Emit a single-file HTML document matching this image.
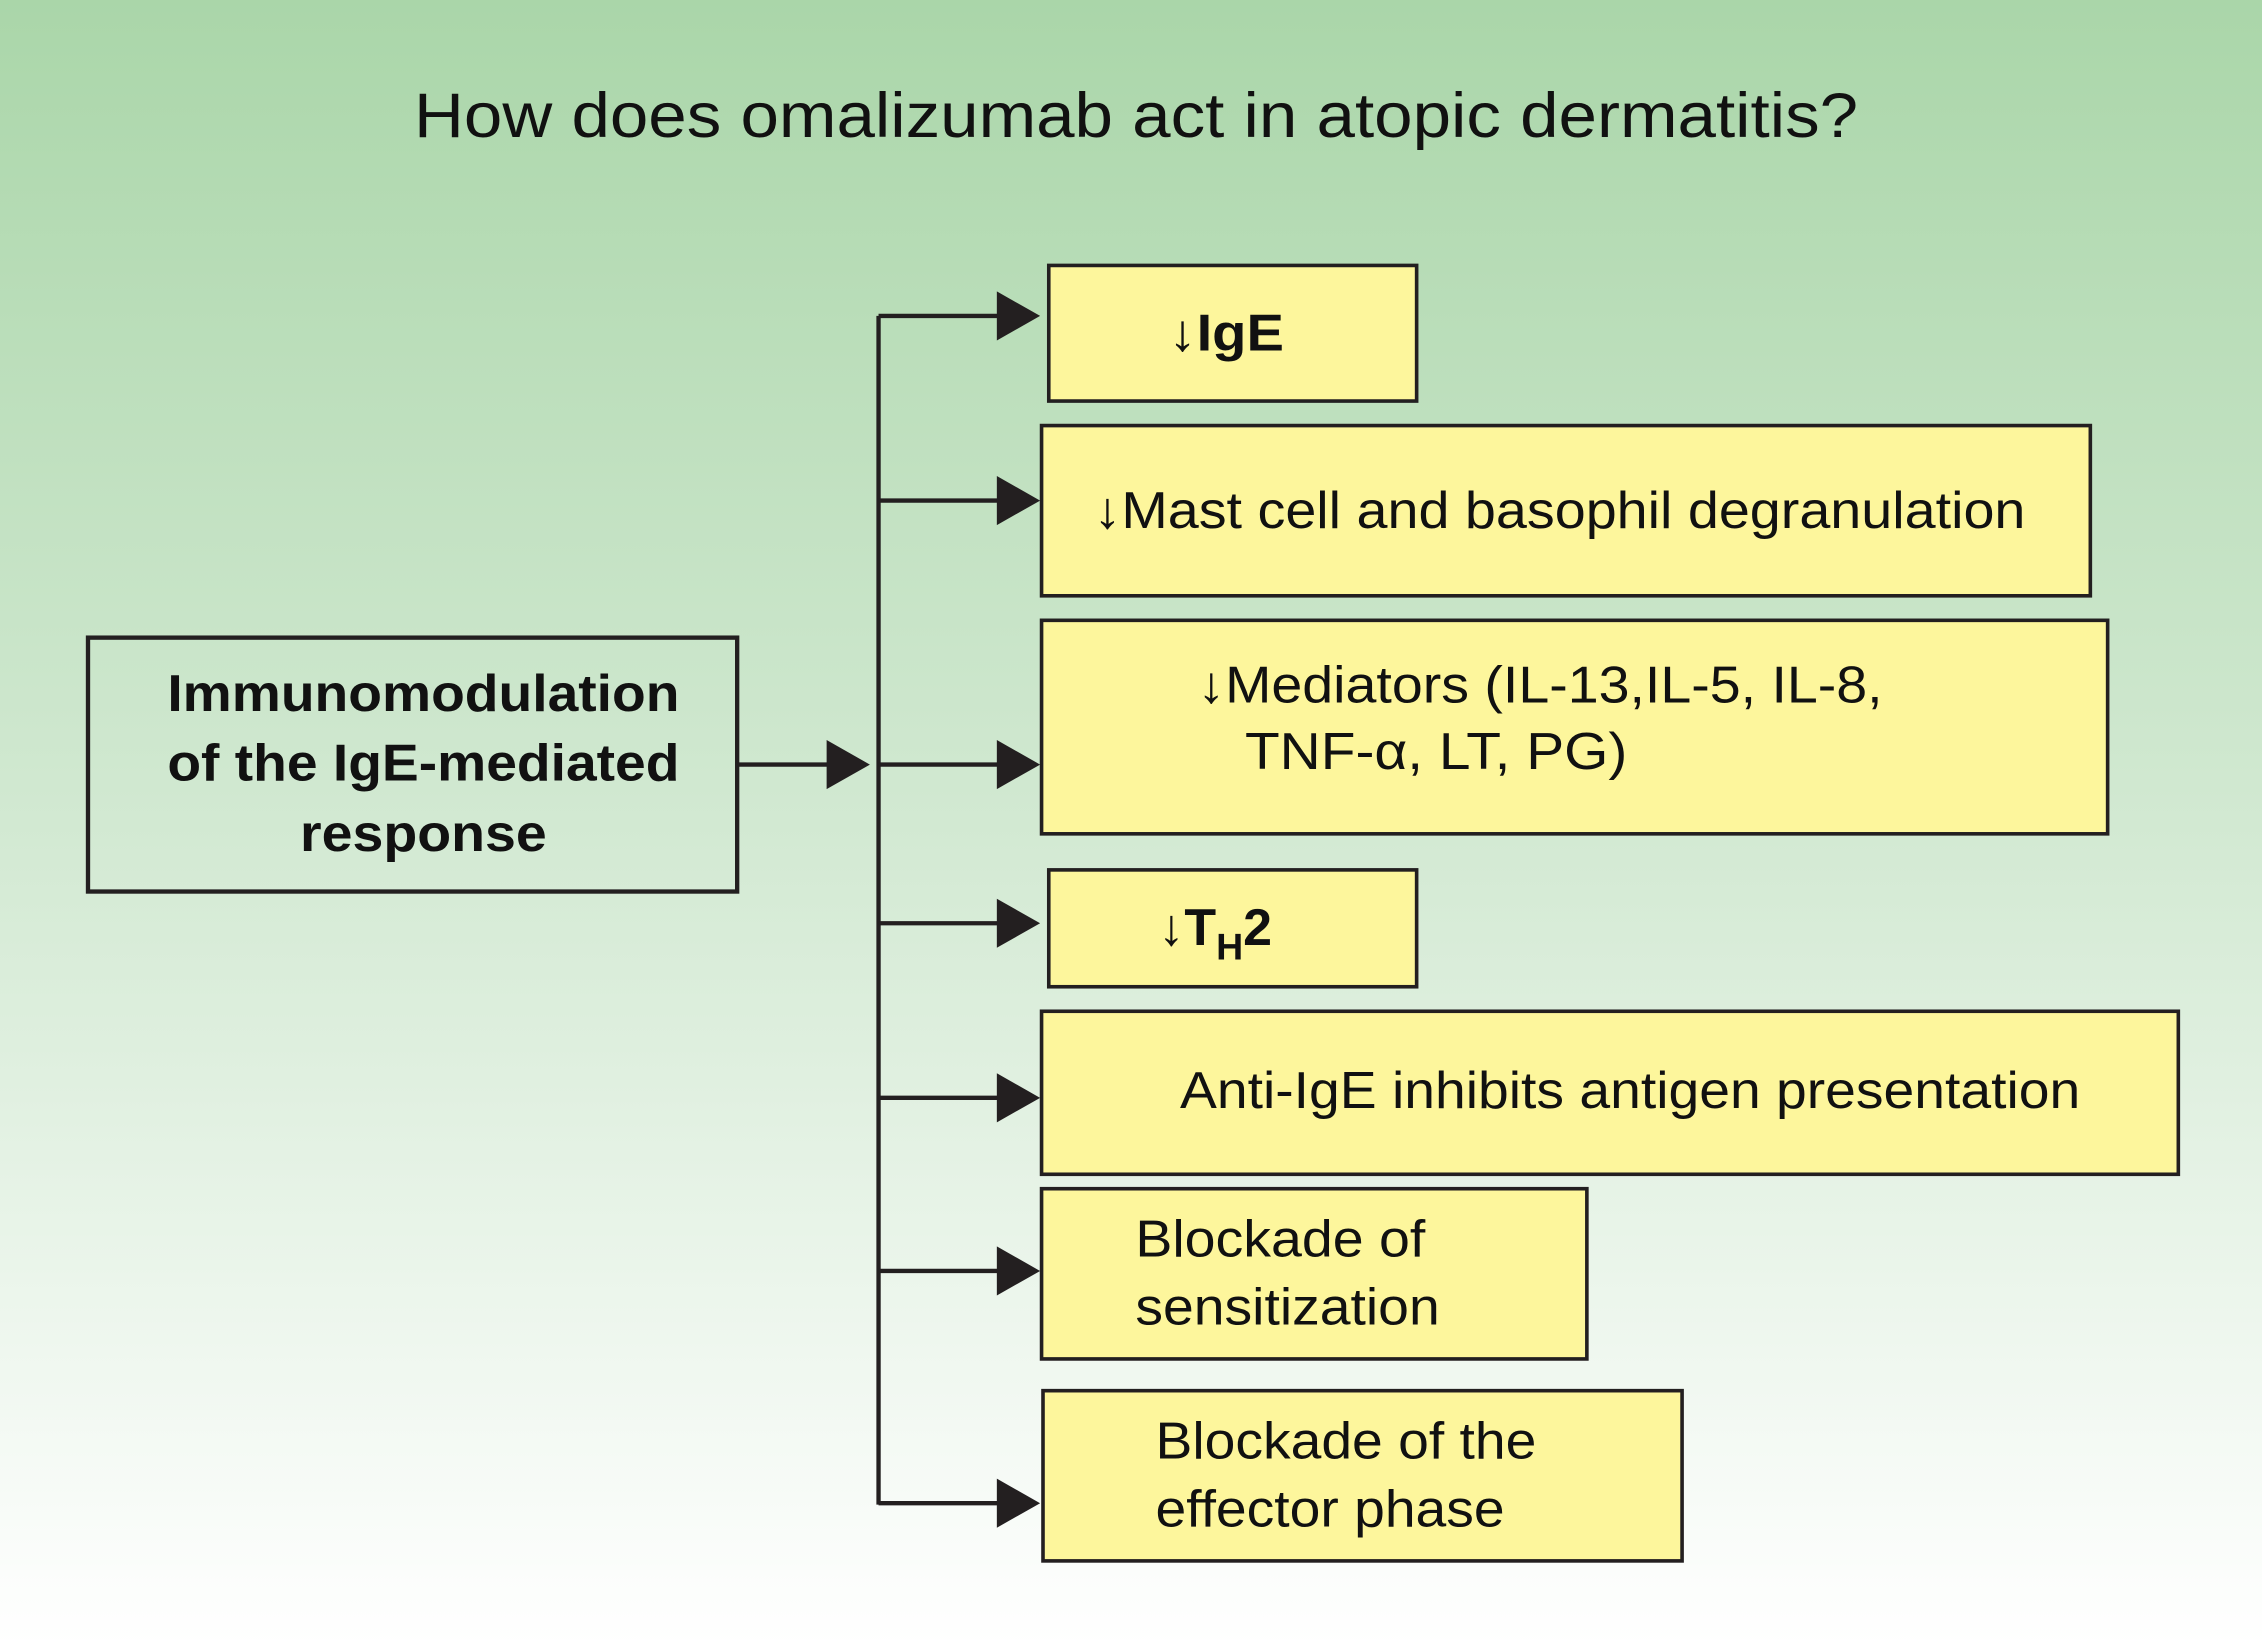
<!DOCTYPE html>
<html><head><meta charset="utf-8"><style>
html,body{margin:0;padding:0;}
svg{display:block;}
text{font-family:"Liberation Sans",Arial,sans-serif;fill:#111;}
</style></head><body>
<svg width="2262" height="1644" viewBox="0 0 1568 1139.6" preserveAspectRatio="none" xmlns="http://www.w3.org/2000/svg">
<defs>
<linearGradient id="bg" x1="0" y1="0" x2="0" y2="1">
<stop offset="0" stop-color="#aad6a9"/>
<stop offset="0.5" stop-color="#d2e9d2"/>
<stop offset="1" stop-color="#ffffff"/>
</linearGradient>
</defs>
<rect width="1568" height="1140" fill="url(#bg)"/>
<text x="287" y="95" font-size="44" textLength="1001" lengthAdjust="spacingAndGlyphs">How does omalizumab act in atopic dermatitis?</text>

<g stroke="#231f20" stroke-width="3" fill="none">
<rect x="61" y="442" width="450" height="176"/>
<line x1="511" y1="530" x2="576" y2="530"/>
<line x1="609" y1="219" x2="609" y2="1043"/>
<line x1="609" y1="219" x2="694" y2="219"/>
<line x1="609" y1="347" x2="694" y2="347"/>
<line x1="609" y1="530" x2="694" y2="530"/>
<line x1="609" y1="640" x2="694" y2="640"/>
<line x1="609" y1="761" x2="694" y2="761"/>
<line x1="609" y1="881" x2="694" y2="881"/>
<line x1="609" y1="1042" x2="694" y2="1042"/>
</g>
<g fill="#231f20">
<polygon points="573,513 603,530 573,547"/>
<polygon points="691,202 721,219 691,236"/>
<polygon points="691,330 721,347 691,364"/>
<polygon points="691,513 721,530 691,547"/>
<polygon points="691,623 721,640 691,657"/>
<polygon points="691,744 721,761 691,778"/>
<polygon points="691,864 721,881 691,898"/>
<polygon points="691,1025 721,1042 691,1059"/>
</g>
<g font-weight="bold" font-size="36">
<text x="116" y="493" textLength="355" lengthAdjust="spacingAndGlyphs">Immunomodulation</text>
<text x="116" y="541" textLength="355" lengthAdjust="spacingAndGlyphs">of the IgE-mediated</text>
<text x="208" y="590" textLength="171" lengthAdjust="spacingAndGlyphs">response</text>
</g>

<g fill="#fdf69c" stroke="#231f20" stroke-width="2.5">
<rect x="727" y="184" width="255" height="94"/>
<rect x="722" y="295" width="727" height="118"/>
<rect x="722" y="430" width="739" height="148"/>
<rect x="727" y="603" width="255" height="81"/>
<rect x="722" y="701" width="788" height="113"/>
<rect x="722" y="824" width="378" height="118"/>
<rect x="723" y="964" width="443" height="118"/>
</g>
<g font-size="36">
<text x="810" y="243" font-weight="bold" textLength="80" lengthAdjust="spacingAndGlyphs">↓IgE</text>
<text x="758" y="366" textLength="646" lengthAdjust="spacingAndGlyphs">↓Mast cell and basophil degranulation</text>
<text x="830" y="487" textLength="475" lengthAdjust="spacingAndGlyphs">↓Mediators (IL-13,IL-5, IL-8,</text>
<text x="863" y="533" textLength="265" lengthAdjust="spacingAndGlyphs">TNF-α, LT, PG)</text>
<text x="803" y="655" font-weight="bold">↓T<tspan font-size="26" dy="10">H</tspan><tspan dy="-10">2</tspan></text>
<text x="818" y="768" textLength="624" lengthAdjust="spacingAndGlyphs">Anti-IgE inhibits antigen presentation</text>
<text x="787" y="871" textLength="201" lengthAdjust="spacingAndGlyphs">Blockade of</text>
<text x="787" y="918" textLength="211" lengthAdjust="spacingAndGlyphs">sensitization</text>
<text x="801" y="1011" textLength="264" lengthAdjust="spacingAndGlyphs">Blockade of the</text>
<text x="801" y="1058" textLength="242" lengthAdjust="spacingAndGlyphs">effector phase</text>
</g>
</svg>
</body></html>
